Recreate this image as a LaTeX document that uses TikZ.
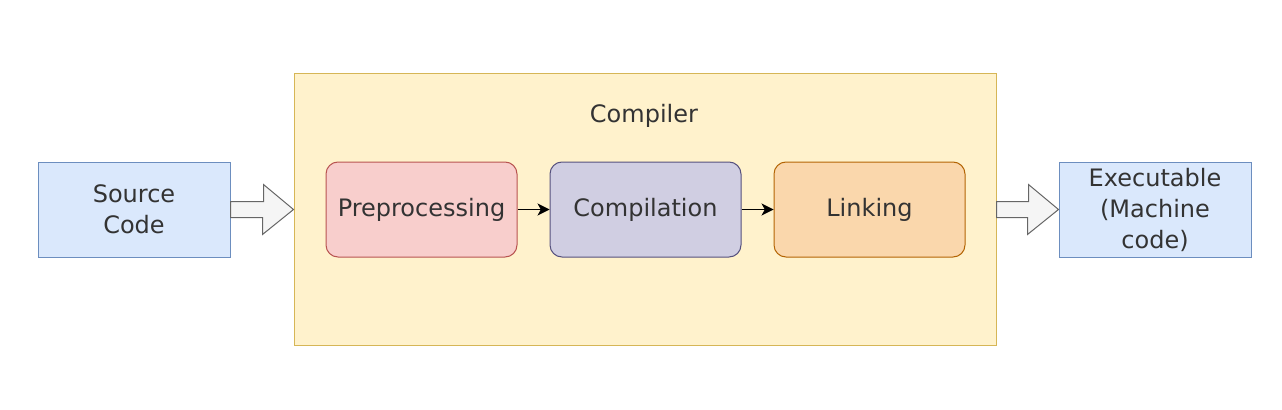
\documentclass[tikz,border=0pt]{standalone}
\usepackage{fontspec}
\setmainfont{DejaVu Sans}
\usepackage{tikz}
\usetikzlibrary{arrows.meta, positioning, calc}

\definecolor{blueFill}{HTML}{DAE8FC}
\definecolor{blueLine}{HTML}{6C8EBF}
\definecolor{yellowFill}{HTML}{FFF2CC}
\definecolor{yellowLine}{HTML}{D6B656}
\definecolor{redFill}{HTML}{F8CECC}
\definecolor{redLine}{HTML}{B85450}
\definecolor{purpleFill}{HTML}{D0CEE2}
\definecolor{purpleLine}{HTML}{56517E}
\definecolor{orangeFill}{HTML}{FAD7AC}
\definecolor{orangeLine}{HTML}{B46504}
\definecolor{greyFill}{HTML}{F5F5F5}
\definecolor{greyLine}{HTML}{666666}
\definecolor{textGrey}{HTML}{333333}

\begin{document}
\begin{tikzpicture}[
        x=0.75pt, y=-0.75pt,
        every node/.style={font=\fontsize{18}{23.25}\selectfont, text=textGrey},
        io/.style={rectangle, draw=blueLine, fill=blueFill, line width=0.75pt, minimum width=144pt, minimum height=71.25pt, text width=130pt, align=center},
        stage/.style={rectangle, rounded corners=9pt, line width=0.75pt, minimum width=143.25pt, minimum height=71.25pt, align=center},
        group/.style={rectangle, draw=yellowLine, fill=yellowFill, line width=0.75pt, minimum width=526.5pt, minimum height=203.25pt},
        bigarrow/.style={draw=greyLine, fill=greyFill, line width=0.75pt, line join=miter},
        arrow/.style={-{Stealth[length=9pt, width=9pt, inset=2.5pt]}, line width=0.75pt}
    ]
    \useasboundingbox (0,0) rectangle (1282,410);

    % boxes
    \node[io] (source) at (134,209.5) {Source\\Code};
    \node[group] (compiler) at (645,209.5) {};
    \node (compilerlabel) at (644,116) {Compiler};
    \node[stage, draw=redLine, fill=redFill] (pre) at (421.5,209.5) {Preprocessing};
    \node[stage, draw=purpleLine, fill=purpleFill, right=24pt of pre] (comp) {Compilation};
    \node[stage, draw=orangeLine, fill=orangeFill, right=24pt of comp] (link) {Linking};
    \node[io] (exe) at (1155,209.5) {Executable\\(Machine\\code)};

    % big arrows
    \draw[bigarrow] ($(source.east)+(0,-8)$) -- ++(33,0) -- ++(0,-17)
        -- (compiler.west) -- ++(-31,25) -- ++(0,-17)
        -- ($(source.east)+(0,8)$) -- cycle;
    \draw[bigarrow] ($(compiler.east)+(0,-8)$) -- ++(32,0) -- ++(0,-17)
        -- (exe.west) -- ++(-31,25) -- ++(0,-17)
        -- ($(compiler.east)+(0,8)$) -- cycle;

    % stage arrows
    \draw[arrow] (pre) -- (comp);
    \draw[arrow] (comp) -- (link);

\end{tikzpicture}
\end{document}
